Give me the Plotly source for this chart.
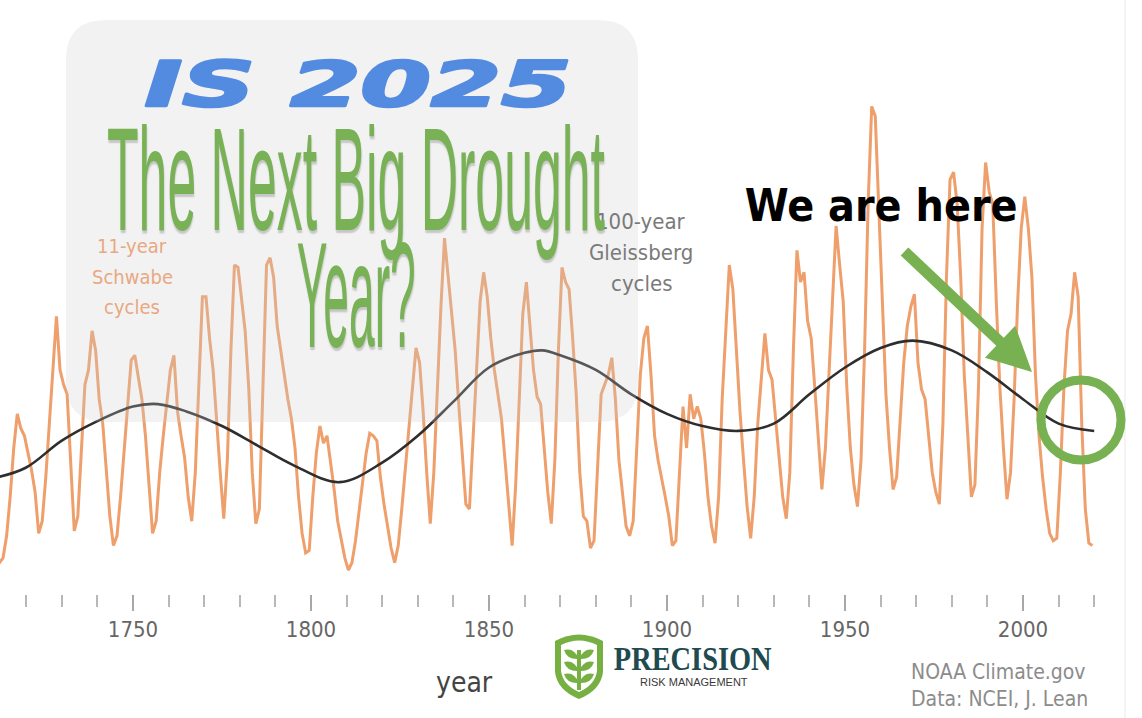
import plotly.graph_objects as go

# ---------------- data ----------------
years = list(range(1711, 2020))
sunspots = [
    1, 3, 5, 14, 30, 50, 64, 58, 55, 48,            # 1711-1720
    41, 32, 15, 20, 38, 60, 84, 104, 82, 76,        # 1721-1730
    72, 45, 16, 22, 50, 76, 82, 98, 90, 70,         # 1731-1740
    60, 40, 22, 10, 14, 30, 50, 70, 86, 88,         # 1741-1750
    78, 70, 55, 35, 15, 20, 40, 55, 68, 82,         # 1751-1760
    88, 65, 55, 46, 30, 20, 40, 80, 112, 112,       # 1761-1770
    95, 82, 60, 40, 21, 45, 90, 125, 124, 110,      # 1771-1780
    98, 75, 40, 19, 25, 75, 125, 128, 120, 100,     # 1781-1790
    90, 78, 70, 62, 50, 30, 15, 7, 8, 30,           # 1791-1800
    48, 59, 52, 55, 45, 33, 20, 12, 5, 0,           # 1801-1810
    3, 12, 24, 38, 48, 56, 55, 53, 38, 27,          # 1811-1820
    17, 9, 3, 10, 25, 42, 58, 75, 91, 85,           # 1821-1830
    65, 40, 19, 40, 75, 108, 136, 120, 105, 90,     # 1831-1840
    68, 48, 27, 25, 55, 85, 110, 122, 112, 95,      # 1841-1850
    82, 72, 62, 45, 28, 10, 35, 72, 105, 118,       # 1851-1860
    100, 82, 71, 68, 50, 32, 19, 45, 90, 124,       # 1861-1870
    118, 115, 95, 72, 40, 22, 20, 9, 12, 45,        # 1871-1880
    72, 76, 80, 87, 70, 45, 30, 18, 14, 20,         # 1881-1890
    50, 80, 95, 100, 80, 55, 45, 38, 30, 22,        # 1891-1900
    10, 12, 40, 67, 50, 72, 62, 67, 62, 48,         # 1901-1910
    30, 18, 11, 30, 70, 100, 125, 115, 88, 65,      # 1911-1920
    45, 26, 13, 30, 60, 80, 97, 82, 78, 62,         # 1921-1930
    45, 30, 21, 40, 90, 131, 118, 122, 102, 95,     # 1931-1940
    75, 55, 33, 50, 80, 112, 141, 125, 110, 75,     # 1941-1950
    50, 35, 26, 45, 90, 150, 190, 186, 150, 110,    # 1951-1960
    72, 50, 33, 38, 60, 85, 100, 108, 113, 85,      # 1961-1970
    74, 70, 55, 40, 32, 27, 60, 120, 160, 163,      # 1971-1980
    150, 120, 80, 55, 30, 35, 75, 140, 167, 155,    # 1981-1990
    150, 110, 75, 50, 29, 40, 70, 110, 140, 153,    # 1991-2000
    140, 120, 80, 55, 38, 25, 15, 12, 13, 40,       # 2001-2010
    75, 98, 105, 122, 112, 60, 25, 11, 10,          # 2011-2019
]

gleiss_years = [1712, 1720, 1730, 1740, 1750, 1757, 1765, 1775, 1785, 1795,
                1808, 1820, 1830, 1840, 1850, 1860, 1865, 1870, 1880, 1890,
                1900, 1910, 1920, 1930, 1940, 1950, 1960, 1969, 1980, 1990,
                2000, 2010, 2020]
gleiss_vals = [38, 42, 53, 61, 67, 68, 65, 59, 51, 43,
               36, 44, 55, 69, 83, 89, 90, 88, 82, 72,
               64, 59, 57, 60, 72, 83, 91, 94, 90, 81,
               70, 60, 57]

major_ticks = [1750, 1800, 1850, 1900, 1950, 2000]
minor_ticks = [1720, 1730, 1740, 1760, 1770, 1780, 1790, 1810, 1820, 1830,
               1840, 1860, 1870, 1880, 1890, 1910, 1920, 1930, 1940, 1960,
               1970, 1980, 1990, 2010, 2020]

# ---------------- layout helpers ----------------
W, H = 1142, 718
PB = 594  # bottom of plotting area in pixels


def px(x):
    return x / W


def py(y):
    return 1 - y / PB


def rrect(x0, y0, x1, y1, r):
    pts = [
        ("M", (x0 + r, y0)), ("L", (x1 - r, y0)), ("Q", (x1, y0), (x1, y0 + r)),
        ("L", (x1, y1 - r)), ("Q", (x1, y1), (x1 - r, y1)), ("L", (x0 + r, y1)),
        ("Q", (x0, y1), (x0, y1 - r)), ("L", (x0, y0 + r)), ("Q", (x0, y0), (x0 + r, y0)),
    ]
    s = ""
    for p in pts:
        coords = " ".join(f"{px(a):.5f},{py(b):.5f}" for a, b in p[1:])
        s += f"{p[0]} {coords} "
    return s + "Z"


def qpath(segments):
    s = ""
    for seg in segments:
        s += seg[0] + " " + " ".join(f"{px(a):.5f},{py(b):.5f}" for a, b in seg[1:]) + " "
    return s + "Z"


ORANGE = "#EE9F6B"
GREEN = "#79B256"
BLUE = "#528BE0"
SANS = "DejaVu Sans Condensed, DejaVu Sans, sans-serif"

fig = go.Figure()
fig.add_trace(go.Scatter(
    x=[y + 0.5 for y in years], y=sunspots, mode="lines",
    line=dict(color=ORANGE, width=3), hoverinfo="skip", showlegend=False))
fig.add_trace(go.Scatter(
    x=gleiss_years, y=gleiss_vals, mode="lines",
    line=dict(color="#2E2E2E", width=2.6, shape="spline", smoothing=1.0),
    hoverinfo="skip", showlegend=False))

shapes = []
# translucent rounded panel behind the headline
shapes.append(dict(type="path", xref="paper", yref="paper", layer="above",
                   path=rrect(66, 20, 638, 422, 40),
                   fillcolor="rgba(205,205,205,0.26)", line=dict(width=0)))
# "we are here" circle
shapes.append(dict(type="circle", xref="paper", yref="paper", layer="above",
                   x0=px(1041), x1=px(1121), y0=py(460), y1=py(380),
                   line=dict(color="#78B151", width=9)))
# faint right border
shapes.append(dict(type="line", xref="paper", yref="paper", layer="below",
                   x0=px(1125), x1=px(1125), y0=py(0), y1=py(718),
                   line=dict(color="#F1F1F1", width=1.5)))

# logo shield
shapes.append(dict(type="path", xref="paper", yref="paper", layer="above",
                   path=qpath([("M", (555, 641)), ("Q", (579, 628), (603, 641)),
                               ("L", (603, 672)), ("Q", (601, 690), (579, 699)),
                               ("Q", (557, 690), (555, 672))]),
                   fillcolor="#76B043", line=dict(width=0)))
shapes.append(dict(type="path", xref="paper", yref="paper", layer="above",
                   path=qpath([("M", (561, 645)), ("Q", (579, 636), (597, 645)),
                               ("L", (597, 671)), ("Q", (595, 685), (579, 692)),
                               ("Q", (563, 685), (561, 671))]),
                   fillcolor="white", line=dict(width=0)))
shapes.append(dict(type="line", xref="paper", yref="paper", layer="above",
                   x0=px(579), x1=px(579), y0=py(650), y1=py(690),
                   line=dict(color="#76B043", width=4)))
for ly in (656, 668, 680):
    shapes.append(dict(type="path", xref="paper", yref="paper", layer="above",
                       path=qpath([("M", (579, ly + 3)), ("Q", (574, ly - 9), (564, ly - 6)),
                                   ("Q", (567, ly + 4), (579, ly + 3))]),
                       fillcolor="#76B043", line=dict(width=0)))
    shapes.append(dict(type="path", xref="paper", yref="paper", layer="above",
                       path=qpath([("M", (579, ly + 3)), ("Q", (584, ly - 9), (594, ly - 6)),
                                   ("Q", (591, ly + 4), (579, ly + 3))]),
                       fillcolor="#76B043", line=dict(width=0)))


def ann(text, x, y, size, color, family=SANS, xanchor="center", weight="normal",
        style="normal", shadow=None):
    f = dict(family=family, size=size, color=color, weight=weight, style=style)
    if shadow:
        f["shadow"] = shadow
    return dict(text=text, x=px(x), y=py(y), xref="paper", yref="paper",
                xanchor=xanchor, yanchor="middle", showarrow=False, font=f)


annotations = [
    ann("11-year", 132, 246, 20, "#E9A882"),
    ann("Schwabe", 132, 277, 20, "#E9A882"),
    ann("cycles", 132, 307, 20, "#E9A882"),
    ann("100-year", 641, 222, 22, "#7A7A7A"),
    ann("Gleissberg", 641, 252, 22, "#7A7A7A"),
    ann("cycles", 641, 283, 22, "#7A7A7A"),
    ann("IS 2025", 358, 85, 63, BLUE, family="DejaVu Sans, sans-serif",
        weight="bold", style="italic"),
    ann("The Next Big Drought", 356, 180, 146, GREEN,
        family="Liberation Sans Narrow, Liberation Sans, Arial, sans-serif",
        shadow="1px 2px 2px rgba(0,0,0,0.18)"),
    ann("Year?", 356, 295, 150, GREEN,
        family="Liberation Sans Narrow, Liberation Sans, Arial, sans-serif",
        shadow="1px 2px 2px rgba(0,0,0,0.18)"),
    ann("We are here", 881, 205, 45, "#000000", family="DejaVu Sans, sans-serif",
        weight="bold"),
    ann("year", 464, 682, 28, "#444444"),
    ann("NOAA Climate.gov", 909, 672, 21, "#8C8C8C", xanchor="left"),
    ann("Data: NCEI, J. Lean", 909, 699, 21, "#8C8C8C", xanchor="left"),
    ann("PRECISION", 693, 659, 33, "#1E4A50",
        family="Liberation Serif, DejaVu Serif, serif", weight="bold"),
    ann("RISK MANAGEMENT", 694, 682, 11, "#3A3A3A",
        family="Liberation Sans, Arial, sans-serif"),
    dict(text="", x=px(1032), y=py(372), xref="paper", yref="paper",
         ax=903 - 1032, ay=250 - 372, showarrow=True, arrowhead=2,
         arrowsize=0.8, arrowwidth=11, arrowcolor="#78B151", standoff=0),
]

fig.update_layout(
    width=W, height=H, autosize=False,
    margin=dict(l=0, r=0, t=0, b=H - PB, pad=0),
    paper_bgcolor="white", plot_bgcolor="white",
    shapes=shapes, annotations=annotations,
    xaxis=dict(
        range=[1750 - 133 / 3.56, 1750 + (W - 133) / 3.56],
        tickvals=major_ticks, ticktext=[str(v) for v in major_ticks],
        ticks="outside", ticklen=16, tickwidth=1.5, tickcolor="#A8A8A8",
        tickfont=dict(family=SANS, size=22, color="#666666"),
        showgrid=False, zeroline=False, showline=False,
        minor=dict(tickvals=minor_ticks, ticks="outside", ticklen=12,
                   tickwidth=1.5, tickcolor="#B8B8B8", showgrid=False),
        fixedrange=True,
    ),
    yaxis=dict(range=[-24 / 2.44, 570 / 2.44], visible=False, fixedrange=True),
)

post = """
document.body.style.margin = '0';
document.body.style.padding = '0';
document.documentElement.style.margin = '0';
var gd = document.getElementById('{plot_id}');
var fit = {"IS 2025": 427, "The Next Big Drought": 498, "Year?": 119,
           "We are here": 273, "PRECISION": 158};
gd.querySelectorAll('text.annotation-text').forEach(function(t){
  var w = fit[t.textContent];
  if (w) {
    var bw = t.getBBox().width;
    if (bw > 0) {
      t.style.transformBox = 'fill-box';
      t.style.transformOrigin = '50% 50%';
      t.style.transform = 'scale(' + (w / bw) + ', 1)';
    }
    if (t.textContent === 'IS 2025') {
      t.style.stroke = '#528BE0';
      t.style.strokeWidth = '2.6px';
      t.style.strokeLinejoin = 'round';
    }
  }
});
"""

fig.write_html("out.html", post_script=post, config={"displayModeBar": False})
